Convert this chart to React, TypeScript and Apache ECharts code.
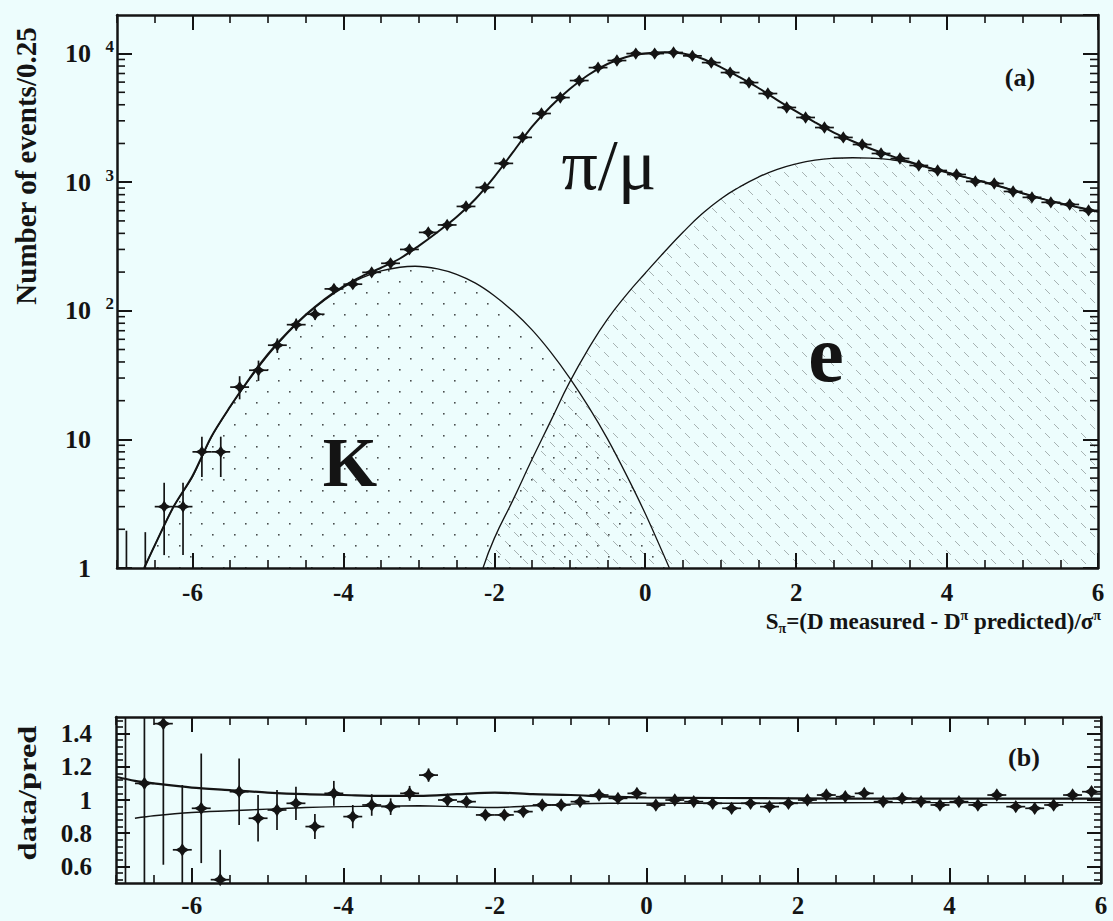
import React, { useEffect, useRef } from 'react';
import * as echarts from 'echarts';

// ---------------- data ----------------
// panel (a): bin centres (bin width 0.25) and event counts
const binCenters = [
  -6.625, -6.375, -6.125, -5.875, -5.625, -5.375, -5.125, -4.875, -4.625, -4.375,
  -4.125, -3.875, -3.625, -3.375, -3.125, -2.875, -2.625, -2.375, -2.125, -1.875,
  -1.625, -1.375, -1.125, -0.875, -0.625, -0.375, -0.125, 0.125, 0.375, 0.625,
  0.875, 1.125, 1.375, 1.625, 1.875, 2.125, 2.375, 2.625, 2.875, 3.125,
  3.375, 3.625, 3.875, 4.125, 4.375, 4.625, 4.875, 5.125, 5.375, 5.625, 5.875,
];
const counts = [
  1, 3, 3, 8, 8, 25.5, 34.5, 54, 78, 94,
  148, 161, 199, 234, 300, 407, 465, 648, 910, 1400,
  2230, 3420, 4550, 6170, 7780, 8830, 10000, 10000, 10200, 9600,
  8510, 7120, 5950, 4890, 3810, 3185, 2660, 2228, 1963, 1672,
  1528, 1349, 1233, 1148, 1014, 977, 847, 762, 697, 671, 603,
];
// visible error bars (first bins only, the others hide inside the markers)
const countErrLo = [0.5, 1.26, 1.26, 5.1, 5.1, 20.5, 28.5, 47, 70, 85, 136, 149, 185, 219, 283];
const countErrHi = [1.9, 4.6, 4.6, 10.5, 10.5, 31, 41, 61, 87, 104, 160, 174, 213, 250, 318];
const emptyBinX = [-6.875];
const emptyBinHi = [1.95];

// total fit
const fitX = [
  -6.64, -6.5, -6.25, -6.0, -5.75, -5.5, -5.25, -5.0, -4.75, -4.5, -4.25, -4.0, -3.75,
  -3.5, -3.25, -3.0, -2.75, -2.5, -2.25, -2.0, -1.75, -1.5, -1.25, -1.0, -0.75, -0.5,
  -0.25, 0.0, 0.25, 0.5, 0.75, 1.0, 1.25, 1.5, 1.75, 2.0, 2.25, 2.5, 2.75, 3.0, 3.25,
  3.5, 3.75, 4.0, 4.25, 4.5, 4.75, 5.0, 5.25, 5.5, 5.75, 6.0,
];
const fitTotal = [
  1, 1.5, 3.0, 5.2, 10.5, 18, 29.5, 46, 67, 93, 123, 155, 186,
  216, 255, 320, 410, 535, 740, 1100, 1720, 2700, 3900, 5300, 6850, 8300,
  9400, 10000, 10250, 10000, 9150, 7850, 6550, 5400, 4350, 3550, 2920, 2430, 2080, 1810, 1610,
  1440, 1300, 1190, 1090, 1000, 910, 820, 745, 685, 635, 590,
];
// kaon component
const kaonX = [
  -6.64, -6.5, -6.25, -6.0, -5.75, -5.5, -5.25, -5.0, -4.75, -4.5, -4.25, -4.0, -3.75,
  -3.5, -3.25, -3.05, -2.75, -2.5, -2.25, -2.0, -1.75, -1.5, -1.25, -1.0, -0.75, -0.5,
  -0.25, 0.0, 0.32,
];
const kaonY = [
  1, 1.5, 3.0, 5.1, 10.4, 17.9, 29, 45, 66, 92, 121, 152, 181,
  204, 218, 222, 212, 192, 164, 131, 99, 71, 47.5, 30, 17.9, 10.1,
  5.3, 2.65, 1,
];
// electron component
const elecX = [
  -2.15, -2.0, -1.75, -1.5, -1.25, -1.0, -0.75, -0.5, -0.25, 0.0, 0.25, 0.5, 0.75, 1.0,
  1.25, 1.5, 1.75, 2.0, 2.25, 2.5, 2.75, 3.0, 3.25, 3.5, 3.75, 4.0, 4.25, 4.5, 4.75,
  5.0, 5.25, 5.5, 5.75, 6.0,
];
const elecY = [
  1, 1.7, 3.4, 7.0, 14, 28, 51, 86, 133, 196, 285, 408, 565, 741,
  918, 1096, 1259, 1390, 1486, 1535, 1549, 1535, 1496, 1419, 1300, 1190, 1090, 1000, 910,
  820, 745, 685, 635, 590,
];

// panel (b): data / prediction
const ratioX = [
  -6.875, -6.625, -6.375, -6.125, -5.875, -5.625, -5.375, -5.125, -4.875, -4.625,
  -4.375, -4.125, -3.875, -3.625, -3.375, -3.125, -2.875, -2.625, -2.375, -2.125,
  -1.875, -1.625, -1.375, -1.125, -0.875, -0.625, -0.375, -0.125, 0.125, 0.375,
  0.625, 0.875, 1.125, 1.375, 1.625, 1.875, 2.125, 2.375, 2.625, 2.875,
  3.125, 3.375, 3.625, 3.875, 4.125, 4.375, 4.625, 4.875, 5.125, 5.375, 5.625, 5.875,
];
const ratio = [
  0, 1.10, 1.46, 0.70, 0.95, 0.52, 1.05, 0.89, 0.94, 0.98,
  0.84, 1.04, 0.90, 0.97, 0.96, 1.04, 1.15, 1.00, 0.99, 0.91,
  0.91, 0.93, 0.97, 0.97, 0.99, 1.03, 1.01, 1.04, 0.97, 1.00,
  0.99, 0.98, 0.95, 0.98, 0.96, 0.98, 1.00, 1.03, 1.02, 1.04,
  0.99, 1.01, 0.99, 0.97, 0.99, 0.97, 1.03, 0.96, 0.95, 0.97, 1.03, 1.05,
];
const ratioErr = [
  2, 0.9, 0.85, 0.39, 0.33, 0.18, 0.2, 0.14, 0.12, 0.10,
  0.075, 0.075, 0.07, 0.065, 0.05, 0.045, 0.04, 0.035, 0.03, 0.025,
  0.02, 0.02, 0.015, 0.015, 0.01, 0.01, 0.01, 0.01, 0.01, 0.01,
  0.01, 0.01, 0.01, 0.01, 0.01, 0.01, 0.01, 0.01, 0.01, 0.01,
  0.01, 0.01, 0.01, 0.01, 0.01, 0.01, 0.01, 0.01, 0.01, 0.01, 0.01, 0.01,
];
const bandUpX = [-7, -6.75, -6.5, -6, -5.5, -5, -4.5, -4, -3.5, -3, -2.5, -2, -1.5, -1, -0.5, 0, 1, 2, 3, 4, 5, 6];
const bandUp = [1.14, 1.115, 1.10, 1.075, 1.06, 1.045, 1.035, 1.03, 1.025, 1.025, 1.035, 1.045, 1.035, 1.03, 1.02, 1.015, 1.012, 1.01, 1.008, 1.008, 1.008, 1.008];
const bandLoX = [-6.75, -6.5, -6, -5.5, -5, -4.5, -4, -3.5, -3, -2.5, -2, -1.5, -1, -0.5, 0, 1, 2, 3, 4, 5, 6];
const bandLo = [0.89, 0.905, 0.925, 0.935, 0.945, 0.955, 0.96, 0.963, 0.965, 0.96, 0.955, 0.965, 0.975, 0.98, 0.98, 0.98, 0.982, 0.984, 0.984, 0.984, 0.984];

// axis ticks
const xMajorTicks = [-6, -4, -2, 0, 2, 4, 6];
const ratioMajorTicks = [0.6, 0.8, 1, 1.2, 1.4];
const ratioMinorTicks = [0.52, 0.56, 0.64, 0.68, 0.72, 0.76, 0.84, 0.88, 0.92, 0.96, 1.04, 1.08, 1.12, 1.16, 1.24, 1.28, 1.32, 1.36, 1.44, 1.48];
const logMinorTicks = [
  2, 3, 4, 5, 6, 7, 8, 9, 20, 30, 40, 50, 60, 70, 80, 90,
  200, 300, 400, 500, 600, 700, 800, 900, 2000, 3000, 4000, 5000, 6000, 7000, 8000, 9000,
];

// ---------------- style ----------------
const BG = '#edfdfd';
const C = '#141414';
const FONT = '"Liberation Serif", "Times New Roman", serif';
const tickLabel = { fontSize: 25, fontWeight: 'bold', fontFamily: FONT, color: C };

const pairs = (xs: number[], ys: number[]) => xs.map((x, i) => [x, ys[i]]);

function star(cx: number, cy: number, s: number) {
  const r = s * 0.38;
  return [
    [cx, cy - s * 0.95], [cx + r, cy - r], [cx + s, cy], [cx + r, cy + r],
    [cx, cy + s * 0.95], [cx - r, cy + r], [cx - s, cy], [cx - r, cy - r],
  ];
}

function makePointRenderer(halfBin: number, size: number) {
  return (params: any, api: any) => {
    const x = api.value(0), y = api.value(1), lo = api.value(2), hi = api.value(3);
    const cs = params.coordSys;
    const top = cs.y, bot = cs.y + cs.height;
    const clampY = (py: number) => Math.max(top, Math.min(bot, py));
    const c = api.coord([x, y]);
    const pl = api.coord([x, lo]);
    const ph = api.coord([x, hi]);
    const children: any[] = [];
    const y1 = clampY(pl[1]), y2 = clampY(ph[1]);
    if (isFinite(y1) && isFinite(y2) && Math.abs(y1 - y2) > 0.5) {
      children.push({ type: 'line', shape: { x1: c[0], y1, x2: c[0], y2 }, style: { stroke: C, lineWidth: 1.7 } });
    }
    if (isFinite(c[1]) && c[1] >= top - 1 && c[1] <= bot - 2) {
      const xl = api.coord([x - halfBin, y])[0];
      const xr = api.coord([x + halfBin, y])[0];
      children.push({ type: 'line', shape: { x1: xl, y1: c[1], x2: xr, y2: c[1] }, style: { stroke: C, lineWidth: 1.7 } });
      children.push({ type: 'polygon', shape: { points: star(c[0], c[1], size) }, style: { fill: C } });
    }
    return { type: 'group', children };
  };
}

function minorTickRenderer(params: any, api: any) {
  const v = api.value(1);
  const p = api.coord([-7, v]);
  const cs = params.coordSys;
  const st = { stroke: C, lineWidth: 1.6 };
  return {
    type: 'group',
    children: [
      { type: 'line', shape: { x1: cs.x, y1: p[1], x2: cs.x + 8, y2: p[1] }, style: st },
      { type: 'line', shape: { x1: cs.x + cs.width - 8, y1: p[1], x2: cs.x + cs.width, y2: p[1] }, style: st },
    ],
  };
}

function makePattern(kind: 'dots' | 'dash') {
  const cv = document.createElement('canvas');
  const n = kind === 'dots' ? 22 : 18;
  cv.width = n; cv.height = n;
  const ctx = cv.getContext('2d')!;
  if (kind === 'dots') {
    ctx.fillStyle = 'rgba(20,20,20,0.75)';
    ctx.fillRect(3, 17, 1.6, 1.6);
    ctx.fillRect(14, 6, 1.6, 1.6);
  } else {
    ctx.strokeStyle = 'rgba(20,20,20,0.32)';
    ctx.lineWidth = 1;
    ctx.beginPath();
    ctx.moveTo(1, 1); ctx.lineTo(6, 6);
    ctx.moveTo(10, 10); ctx.lineTo(15, 15);
    ctx.stroke();
  }
  return { image: cv, repeat: 'repeat', imageWidth: n, imageHeight: n };
}

function makeX(g: number, margin: number) {
  const line = { onZero: false, lineStyle: { color: C, width: 2.5 } };
  const noLine = { show: false, onZero: false };
  const common = { type: 'value', gridIndex: g, min: -7, max: 6, splitLine: { show: false } };
  const major = { inside: true, length: 15, lineStyle: { color: C, width: 2 }, customValues: xMajorTicks };
  const minor = { inside: true, length: 8, lineStyle: { color: C, width: 1.6 } };
  return [
    { ...common, position: 'bottom', axisLine: line, axisTick: major,
      axisLabel: { ...tickLabel, margin, customValues: xMajorTicks, formatter: (v: number) => String(v) } },
    { ...common, position: 'bottom', interval: 0.5, axisLine: noLine, axisTick: minor, axisLabel: { show: false } },
    { ...common, position: 'top', axisLine: line, axisTick: major, axisLabel: { show: false } },
    { ...common, position: 'top', interval: 0.5, axisLine: noLine, axisTick: minor, axisLabel: { show: false } },
  ];
}

function logLabel(v: number) {
  const e = Math.round(Math.log10(v));
  if (e === 0) return '{b|1}{e| }';
  if (e === 1) return '{b|10}{e| }';
  return '{b|10}{s|' + e + '}';
}

function txt(x: number, y: number, text: string, size: number, weight: string, extra: any = {}) {
  return {
    type: 'text', x, y, silent: true, ...extra,
    style: {
      text, fontSize: size, fontWeight: weight, fontFamily: FONT, fill: C,
      align: 'center', verticalAlign: 'middle', textAlign: 'center', textVerticalAlign: 'middle',
    },
  };
}

export default function App() {
  const ref = useRef<HTMLDivElement>(null);
  useEffect(() => {
    if (!ref.current) return;
    const chart = echarts.init(ref.current, undefined, { renderer: 'svg' });
    const line = { onZero: false, lineStyle: { color: C, width: 2.5 } };
    const noLine = { show: false, onZero: false };
    const logCommon = { type: 'log', gridIndex: 0, min: 1, max: 19953, logBase: 10, splitLine: { show: false } };
    const ratioCommon = { type: 'value', gridIndex: 1, min: 0.5, max: 1.5, splitLine: { show: false } };
    const majorY = { inside: true, length: 15, lineStyle: { color: C, width: 2 } };
    const minorY = { inside: true, length: 8, lineStyle: { color: C, width: 1.6 } };

    const option: any = {
      animation: false,
      backgroundColor: BG,
      grid: [
        { left: 117, top: 15, width: 981, height: 553 },
        { left: 116, top: 717, width: 985, height: 166 },
      ],
      xAxis: [...makeX(0, 12), ...makeX(1, 10)],
      yAxis: [
        { ...logCommon, position: 'left', axisLine: line, axisTick: majorY,
          axisLabel: {
            margin: 3, interval: 0, showMaxLabel: false, showMinLabel: true, formatter: logLabel,
            rich: {
              b: { fontSize: 26, fontWeight: 'bold', fontFamily: FONT, color: C },
              s: { fontSize: 17, fontWeight: 'bold', fontFamily: FONT, color: C, width: 14, padding: [0, 0, 14, 9] },
              e: { fontSize: 17, width: 23 },
            },
          } },
        { ...logCommon, position: 'right', axisLine: line, axisTick: majorY, axisLabel: { show: false } },
        { ...ratioCommon, position: 'left', axisLine: line, axisTick: { ...majorY, length: 14, customValues: ratioMajorTicks },
          axisLabel: { ...tickLabel, margin: 24, customValues: ratioMajorTicks, formatter: (v: number) => String(v) } },
        { ...ratioCommon, position: 'left', axisLine: noLine, axisTick: { ...minorY, length: 7, customValues: ratioMinorTicks }, axisLabel: { show: false } },
        { ...ratioCommon, position: 'right', axisLine: line, axisTick: { ...majorY, length: 14, customValues: ratioMajorTicks }, axisLabel: { show: false } },
        { ...ratioCommon, position: 'right', axisLine: noLine, axisTick: { ...minorY, length: 7, customValues: ratioMinorTicks }, axisLabel: { show: false } },
      ],
      series: [
        { type: 'line', name: 'K', xAxisIndex: 0, yAxisIndex: 0, data: pairs(kaonX, kaonY), smooth: 0.3,
          symbol: 'none', silent: true, z: 2, lineStyle: { color: C, width: 1.3 },
          areaStyle: { color: makePattern('dots'), origin: 'start', opacity: 1 } },
        { type: 'line', name: 'e', xAxisIndex: 0, yAxisIndex: 0, data: pairs(elecX, elecY), smooth: 0.5,
          symbol: 'none', silent: true, z: 2, lineStyle: { color: C, width: 1.3 },
          areaStyle: { color: makePattern('dash'), origin: 'start', opacity: 1 } },
        { type: 'line', name: 'fit', xAxisIndex: 0, yAxisIndex: 0, data: pairs(fitX, fitTotal), smooth: 0.3,
          symbol: 'none', silent: true, z: 3, lineStyle: { color: C, width: 2 } },
        { type: 'custom', name: 'data', xAxisIndex: 0, yAxisIndex: 0, silent: true, z: 4,
          encode: { x: 0, y: 1 },
          data: binCenters.map((x, i) => [x, counts[i],
            countErrLo[i] !== undefined ? countErrLo[i] : counts[i],
            countErrHi[i] !== undefined ? countErrHi[i] : counts[i]]),
          renderItem: makePointRenderer(0.125, 6.5) },
        { type: 'custom', name: 'empty bins', xAxisIndex: 0, yAxisIndex: 0, silent: true, z: 4,
          encode: { x: 0, y: 1 },
          data: emptyBinX.map((x, i) => [x, 0.5, 0.5, emptyBinHi[i]]),
          renderItem: makePointRenderer(0.125, 6.5) },
        { type: 'custom', name: 'log minor ticks', xAxisIndex: 0, yAxisIndex: 0, silent: true, z: 5,
          encode: { x: 0, y: 1 },
          data: logMinorTicks.map((v) => [-7, v]), renderItem: minorTickRenderer },
        { type: 'line', name: 'band up', xAxisIndex: 4, yAxisIndex: 2, data: pairs(bandUpX, bandUp), smooth: 0.3,
          symbol: 'none', silent: true, z: 3, lineStyle: { color: C, width: 2.2 } },
        { type: 'line', name: 'band low', xAxisIndex: 4, yAxisIndex: 2, data: pairs(bandLoX, bandLo), smooth: 0.3,
          symbol: 'none', silent: true, z: 3, lineStyle: { color: C, width: 1.4 } },
        { type: 'custom', name: 'ratio', xAxisIndex: 4, yAxisIndex: 2, silent: true, z: 4,
          encode: { x: 0, y: 1 },
          data: ratioX.map((x, i) => [x, ratio[i], ratio[i] - ratioErr[i], ratio[i] + ratioErr[i]]),
          renderItem: makePointRenderer(0.125, 7) },
      ],
      graphic: [
        txt(609, 165, 'π/μ', 72, 'normal'),
        txt(350, 462, 'K', 70, 'bold'),
        txt(826, 354, 'e', 80, 'bold'),
        txt(1020, 77, '(a)', 26, 'bold'),
        txt(1024, 757, '(b)', 26, 'bold'),
        txt(26, 166, 'Number of events/0.25', 29, 'bold', { rotation: Math.PI / 2 }),
        txt(27, 793, 'data/pred', 26, 'bold', { rotation: Math.PI / 2, scaleX: 1.25 }),
        {
          type: 'text', x: 1101, y: 621, silent: true,
          style: {
            text: '{m|S}{sub|π}{m|=(D measured - D}{sup|π}{m| predicted)/σ}{sup|π}',
            align: 'right', verticalAlign: 'middle', textAlign: 'right', textVerticalAlign: 'middle',
            fill: C,
            rich: {
              m: { fontSize: 23, fontWeight: 'bold', fontFamily: FONT, color: C },
              sub: { fontSize: 14, fontWeight: 'bold', fontFamily: FONT, color: C, padding: [14, 0, 0, 0] },
              sup: { fontSize: 14, fontWeight: 'bold', fontFamily: FONT, color: C, padding: [0, 0, 11, 0] },
            },
          },
        },
      ],
    };
    chart.setOption(option);
    return () => chart.dispose();
  }, []);
  return (
    <div style={{ position: 'fixed', left: 0, top: 0, width: 1113, height: 921, background: BG }}>
      <div ref={ref} style={{ width: 1113, height: 921 }} />
    </div>
  );
}
